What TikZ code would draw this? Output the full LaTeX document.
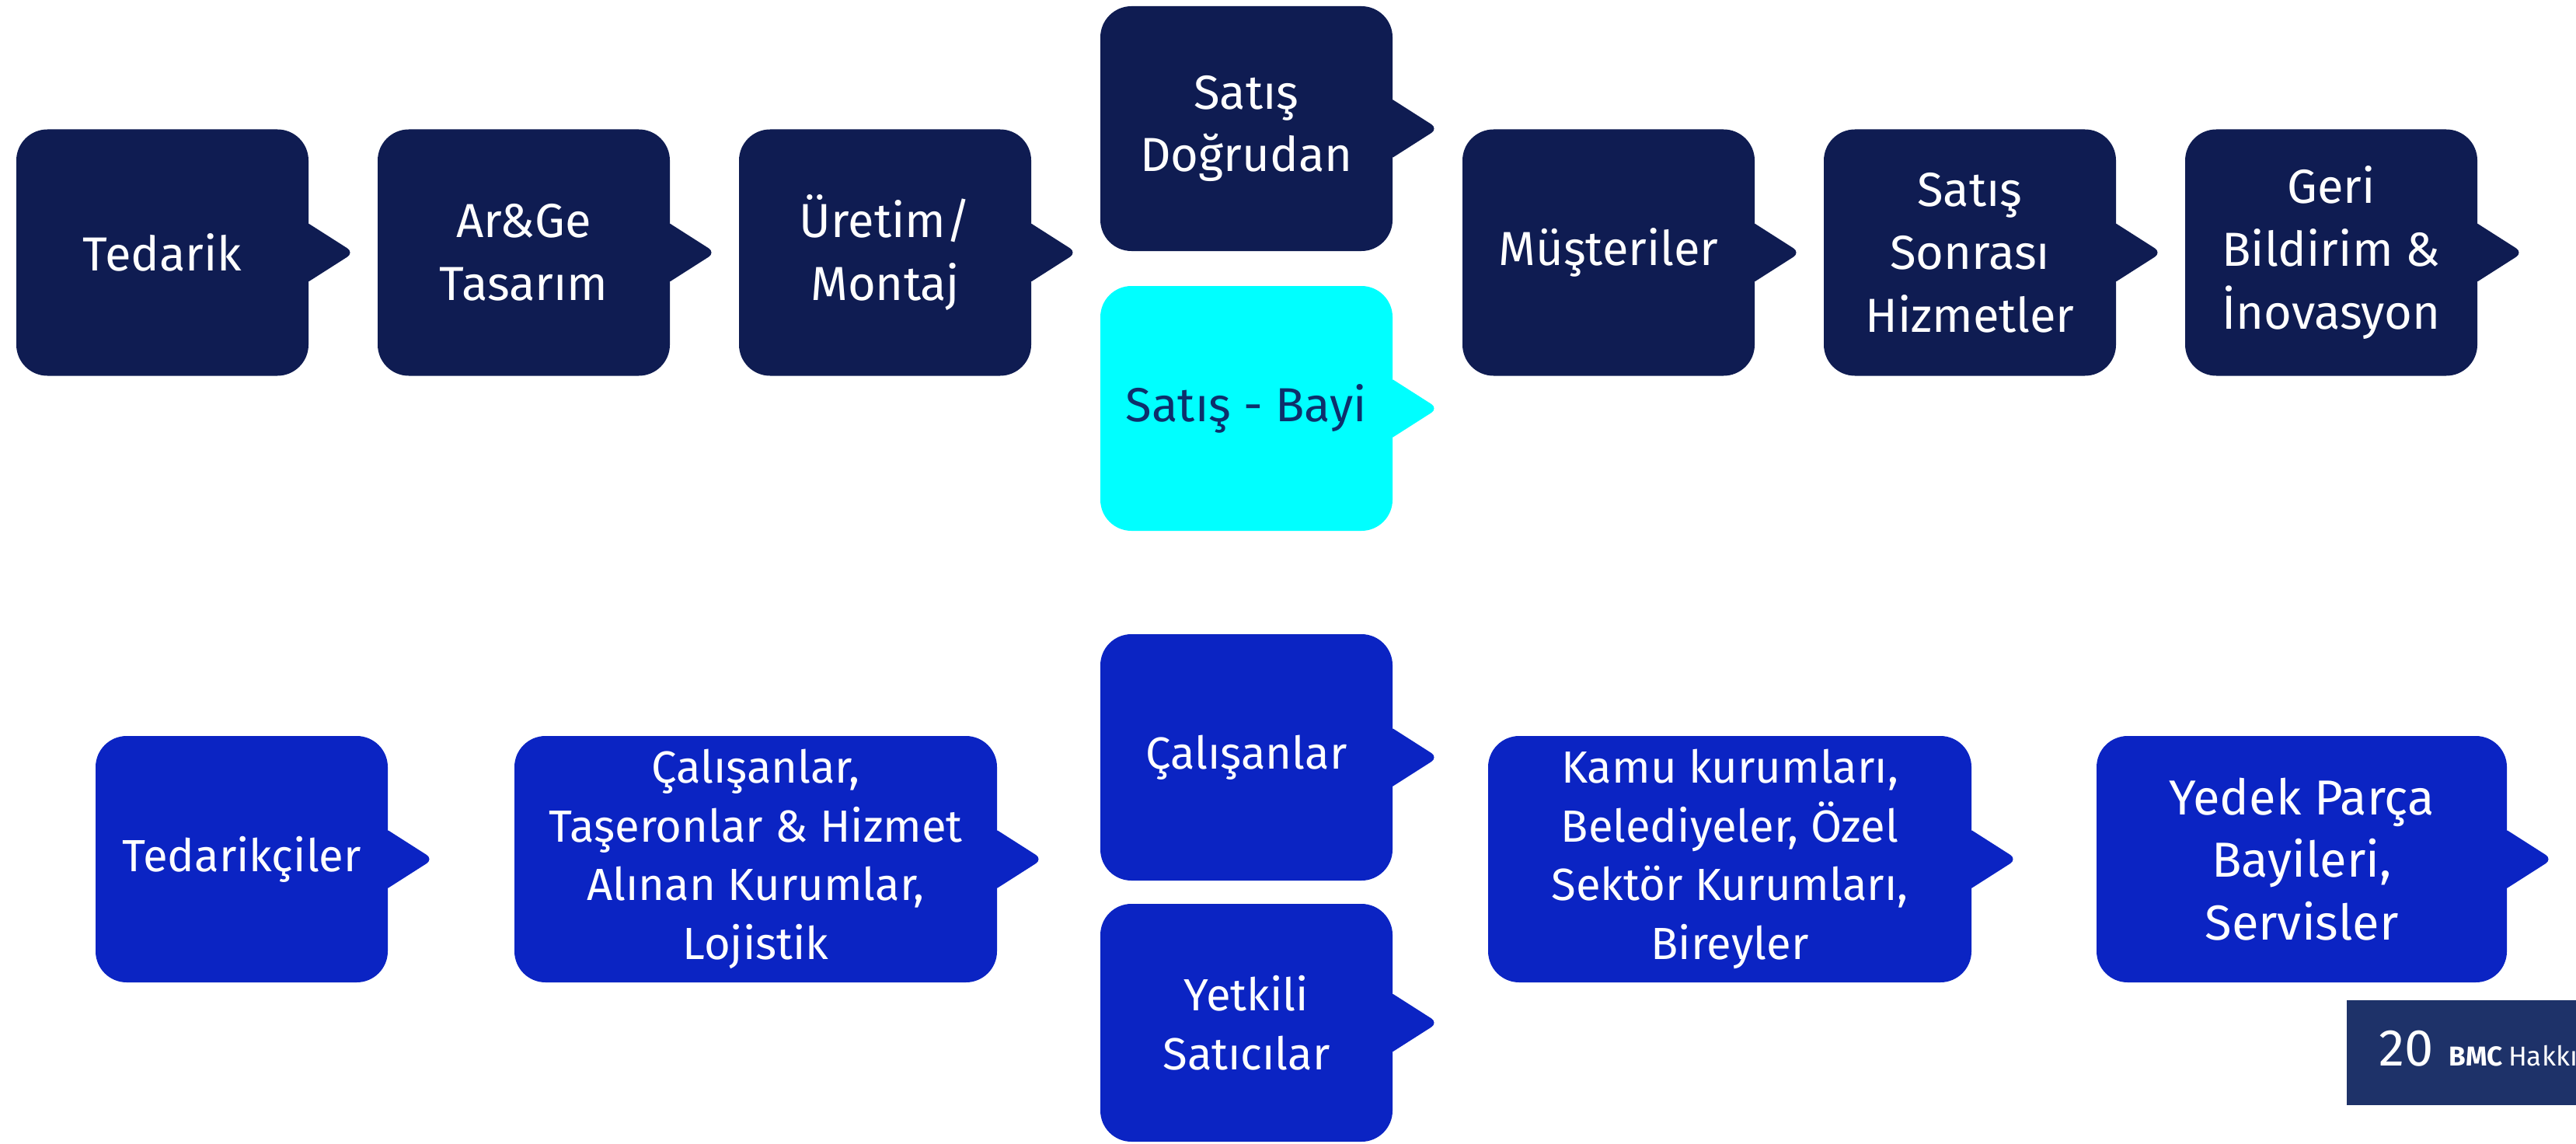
\documentclass[tikz,border=0pt]{standalone}
\usepackage{fontspec}
\setmainfont{Fira Sans}
\usepackage{xcolor}

\definecolor{navy}{HTML}{0F1C52}
\definecolor{royal}{HTML}{0B24C3}
\definecolor{aqua}{HTML}{00FFFF}
\definecolor{bayitext}{HTML}{0E2F6B}
\definecolor{badgeblue}{HTML}{1E3269}

\tikzset{
  box/.style={fill=#1, rounded corners=0.4cm, inner sep=0pt, align=center,
    minimum width=3.76cm, minimum height=3.17cm, text=white},
  topbox/.style={box=navy, font=\fontsize{17.5}{23}\selectfont},
  cyanbox/.style={box=aqua, minimum height=3.15cm, text=bayitext,
    font=\fontsize{17.5}{23}\selectfont},
  lowbox/.style={box=royal, font=\fontsize{16.5}{21.5}\selectfont}
}

\newcommand\tailof[2]{%
  \fill[#2] ([xshift=-.15cm,yshift=.37cm]#1.east) -- ([yshift=.37cm]#1.east)
    [rounded corners=3pt] -- ([xshift=.58cm]#1.east)
    [sharp corners] -- ([yshift=-.37cm]#1.east)
    -- ([xshift=-.15cm,yshift=-.37cm]#1.east) -- cycle;}

\begin{document}
\begin{tikzpicture}
  \useasboundingbox (0,0) rectangle (33.15,14.71);

  \node (ted) [topbox] at (2.09,11.46) {Tedarik};
  \node (arge) [topbox] at (6.74,11.46) {Ar\&Ge\\Tasarım};
  \node (uretim) [topbox] at (11.39,11.46) {Üretim/\\Montaj};
  \node (direkt) [topbox, minimum height=3.15cm] at (16.04,13.055) {Satış\\Doğrudan};
  \node (bayi) [cyanbox] at (16.04,9.455) {Satış - Bayi};
  \node (musteri) [topbox] at (20.70,11.46) {Müşteriler};
  \node (sonrasi) [topbox] at (25.35,11.46) {Satış\\Sonrası\\Hizmetler};
  \node (geri) [topbox] at (30.00,11.46) {Geri\\Bildirim \&\\İnovasyon};

  \node (tedarikci) [lowbox] at (3.11,3.655) {Tedarikçiler};
  \node (calisan) [lowbox, minimum width=6.21cm] at (9.725,3.655)
    {Çalışanlar,\\Taşeronlar \& Hizmet\\Alınan Kurumlar,\\Lojistik};
  \node (personel) [lowbox] at (16.04,4.965) {Çalışanlar};
  \node (yetkili) [lowbox, minimum height=3.06cm] at (16.04,1.55) {Yetkili\\Satıcılar};
  \node (kamu) [lowbox, minimum width=6.22cm] at (22.26,3.655)
    {Kamu kurumları,\\Belediyeler, Özel\\Sektör Kurumları,\\Bireyler};
  \node (yedek) [lowbox, minimum width=5.28cm, font=\fontsize{18}{23}\selectfont]
    at (29.62,3.655) {Yedek Parça\\Bayileri,\\Servisler};

  \foreach \n/\c in {ted/navy, arge/navy, uretim/navy, direkt/navy, bayi/aqua,
      musteri/navy, sonrasi/navy, geri/navy, tedarikci/royal, calisan/royal,
      personel/royal, yetkili/royal, kamu/royal, yedek/royal}
    \tailof{\n}{\c};

  \begin{scope}
    \clip (0,0) rectangle (33.15,14.71);
    \node (badge) [fill=badgeblue, anchor=south west, inner sep=0pt,
      minimum width=3.3cm, minimum height=1.35cm] at (30.19,0.48) {};
    \node (page) [anchor=base west, inner sep=0pt, text=white,
      font=\fontsize{19}{19}\selectfont] at (30.61,1.00) {20};
    \node (brand) [anchor=base west, inner sep=0pt, text=white,
      font=\bfseries\fontsize{10}{12}\selectfont]
      at ([xshift=.18cm]page.base east) {BMC};
    \node (about) [anchor=base west, inner sep=0pt, text=white,
      font=\fontsize{10}{12}\selectfont]
      at ([xshift=.06cm]brand.base east) {Hakkında};
  \end{scope}
\end{tikzpicture}
\end{document}
